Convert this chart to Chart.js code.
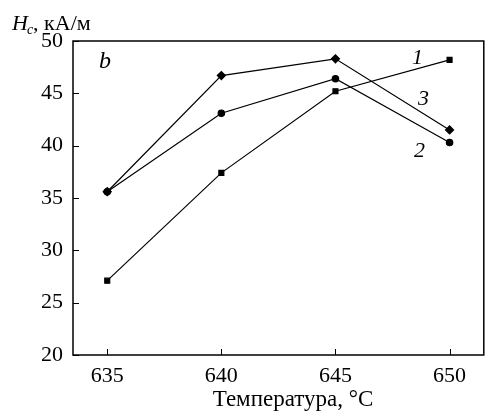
<!DOCTYPE html>
<html lang="ru">
<head>
  <meta charset="UTF-8">
  <title>Hc vs temperature</title>
  <script src="https://cdn.jsdelivr.net/npm/chart.js"></script>
  <style>
    body { margin: 0; padding: 0; background: #fff; }
    #wrap { width: 489px; height: 412px; }
  </style>
</head>
<body>
  <div id="wrap"><canvas id="hcChart" width="489" height="412"></canvas></div>
  <script>
    // данные графика
    const temps = [635, 640, 645, 650];
    const curve1 = [27.1, 37.4, 45.2, 48.2];   // квадраты
    const curve2 = [35.6, 43.1, 46.4, 40.3];   // кружки
    const curve3 = [35.6, 46.7, 48.3, 41.5];   // ромбы
    const yTicks = [20, 25, 30, 35, 40, 45, 50];
    const xTicks = [635, 640, 645, 650];

    const serif = 'Liberation Serif';
    Chart.defaults.font.family = serif;
    Chart.defaults.color = '#000';

    function pts(arr) { return temps.map((t, i) => ({ x: t, y: arr[i] })); }

    function ds(label, arr, style, r) {
      return {
        label: label,
        data: pts(arr),
        borderColor: '#000',
        backgroundColor: '#000',
        borderWidth: 1.2,
        pointStyle: style,
        pointRadius: r,
        pointHoverRadius: r,
        tension: 0
      };
    }

    // рамка, засечки внутрь и подписи
    const decor = {
      id: 'decor',
      afterDraw(chart) {
        const c = chart.ctx, a = chart.chartArea;
        const xs = chart.scales.x, ys = chart.scales.y;
        c.save();
        c.strokeStyle = '#000';
        c.lineWidth = 1.5;
        c.strokeRect(a.left, a.top, a.right - a.left, a.bottom - a.top);
        c.lineWidth = 1;
        yTicks.forEach(v => {
          const y = Math.round(ys.getPixelForValue(v)) + 0.5;
          c.beginPath(); c.moveTo(a.left, y); c.lineTo(a.left + 6, y); c.stroke();
        });
        xTicks.forEach(v => {
          const x = Math.round(xs.getPixelForValue(v)) + 0.5;
          c.beginPath(); c.moveTo(x, a.bottom); c.lineTo(x, a.bottom - 6); c.stroke();
        });

        c.fillStyle = '#000';
        c.textBaseline = 'alphabetic';
        // заголовок оси Y
        c.font = 'italic 22px ' + serif;
        c.fillText('H', 12, 30);
        const hw = c.measureText('H').width;
        c.font = 'italic 14px ' + serif;
        c.fillText('c', 11 + hw, 34);
        const cw = c.measureText('c').width;
        c.font = '22px ' + serif;
        c.fillText(', кА/м', 11 + hw + cw, 30);

        // подписи кривых
        c.font = 'italic 24px ' + serif;
        c.fillText('b', 99, 68);
        c.font = 'italic 22px ' + serif;
        c.fillText('1', 412, 64);
        c.fillText('3', 418, 105);
        c.fillText('2', 414, 157);

        // подпись оси X
        c.font = '23px ' + serif;
        c.textAlign = 'center';
        c.fillText('Температура, °С', 293, 406);
        c.restore();
      }
    };

    new Chart(document.getElementById('hcChart'), {
      type: 'line',
      data: {
        datasets: [
          ds('1', curve1, 'rect', 3.5),
          ds('2', curve2, 'circle', 3.2),
          ds('3', curve3, 'rectRot', 4)
        ]
      },
      options: {
        responsive: false,
        animation: false,
        layout: { padding: { top: 41, right: 1, left: 0, bottom: 0 } },
        plugins: { legend: { display: false }, tooltip: { enabled: false } },
        scales: {
          x: {
            type: 'linear',
            min: 633.5,
            max: 651.5,
            afterBuildTicks(s) { s.ticks = xTicks.map(v => ({ value: v })); },
            afterFit(s) { s.height = 57; },
            grid: { display: false, drawTicks: false },
            border: { display: false },
            ticks: { color: '#000', padding: 8, font: { family: serif, size: 22 } }
          },
          y: {
            min: 20,
            max: 50,
            afterBuildTicks(s) { s.ticks = yTicks.map(v => ({ value: v })); },
            afterFit(s) { s.width = 73; },
            grid: { display: false, drawTicks: false },
            border: { display: false },
            ticks: { color: '#000', padding: 10, font: { family: serif, size: 22 } }
          }
        }
      },
      plugins: [decor]
    });
  </script>
</body>
</html>
